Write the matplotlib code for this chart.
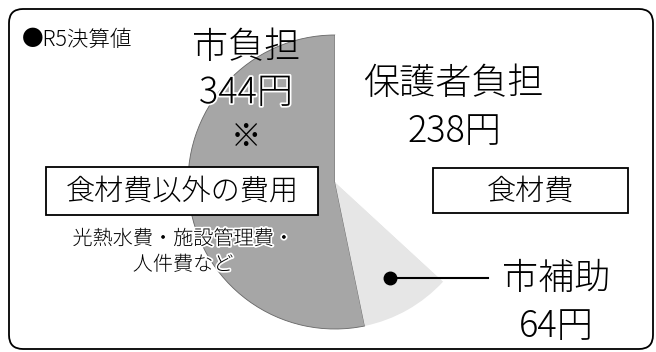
import matplotlib.pyplot as plt
from matplotlib.patches import FancyBboxPatch, Rectangle
import matplotlib.patheffects as pe

plt.rcParams['font.family'] = ['Noto Sans CJK JP', 'DejaVu Sans']
plt.rcParams['font.weight'] = 'light'

# data
labels = ["市負担", "市補助", "保護者負担"]
values = [344, 64, 238]
colors = ["#a6a6a6", "#e6e6e6", "white"]
title = "●R5決算値"
group_left = "食材費以外の費用"
group_left_note = "光熱水費・施設管理費・\n人件費など"
group_right = "食材費"

W, H = 656, 352
fig = plt.figure(figsize=(W / 100, H / 100), dpi=100)
ax = fig.add_axes([0, 0, 1, 1])


def Y(y):
    # image row -> data y
    return H - y


wedges, _ = ax.pie(values, colors=colors, startangle=90, counterclock=True,
                   center=(335, Y(182)), radius=147, frame=True,
                   wedgeprops=dict(linewidth=0))
wedges[0].set_edgecolor("#666666")
wedges[0].set_linewidth(0.6)

ax.set_xlim(0, W)
ax.set_ylim(0, H)
ax.axis("off")

# frame
ax.add_patch(FancyBboxPatch((9 + 14, Y(349) + 14), 644 - 28, 340 - 28,
                            boxstyle="round,pad=14", fc="none", ec="black", lw=1.3))

ax.text(22, Y(40), title, fontsize=15.5, ha="left", va="center")

halo = [pe.withStroke(linewidth=2.5, foreground="white")]

# 市負担
ax.text(246, Y(48), labels[0], fontsize=26, ha="center", va="center")
ax.text(246, Y(93), f"{values[0]}円", fontsize=26, ha="center", va="center",
        path_effects=halo)
ax.text(246, Y(137), "※", fontsize=22, ha="center", va="center")

# 保護者負担
ax.text(453, Y(84), labels[2], fontsize=26, ha="center", va="center")
ax.text(454, Y(132), f"{values[2]}円", fontsize=26, ha="center", va="center")

# 市補助
ax.plot([390, 488], [Y(278), Y(278)], color="black", lw=1.5)
ax.plot([390], [Y(278)], "o", color="black", ms=9)
ax.text(556, Y(279), labels[1], fontsize=26, ha="center", va="center")
ax.text(556, Y(327), f"{values[1]}円", fontsize=26, ha="center", va="center")

# boxes
ax.add_patch(Rectangle((46, Y(215)), 272, 48, fc="white", ec="black", lw=1.3))
ax.text(182, Y(191), group_left, fontsize=21, ha="center", va="center")
ax.add_patch(Rectangle((433, Y(213)), 195, 45, fc="white", ec="black", lw=1.3))
ax.text(530, Y(191), group_right, fontsize=21, ha="center", va="center")

ax.text(183, Y(252), group_left_note, fontsize=14.5, ha="center", va="center",
        linespacing=1.3, path_effects=halo)

fig.savefig("out.png", dpi=100)
